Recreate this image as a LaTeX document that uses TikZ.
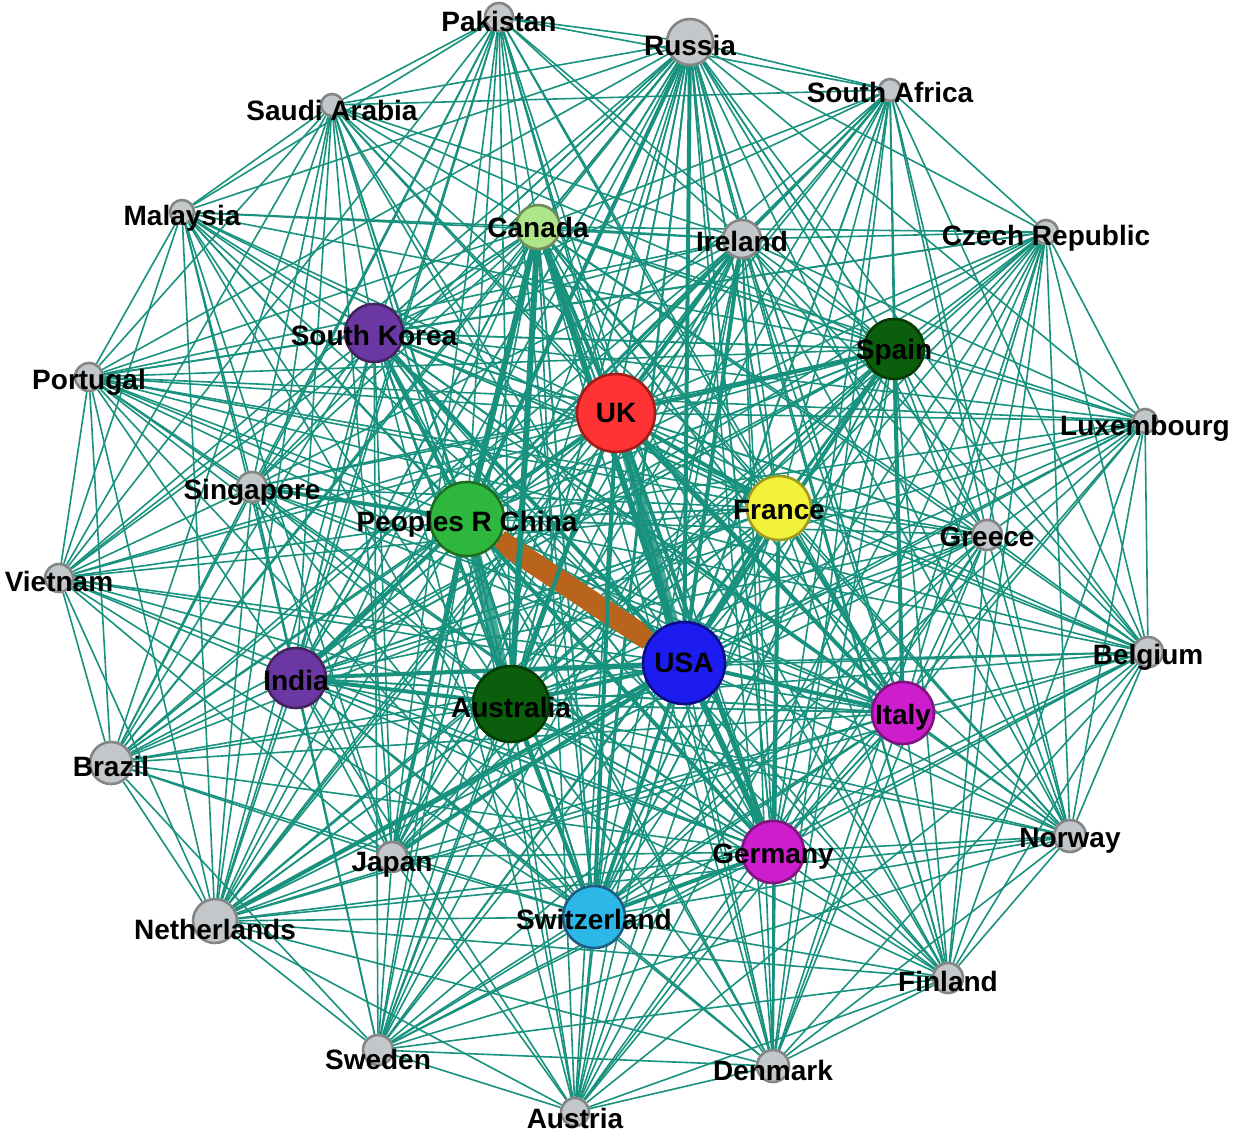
\documentclass[tikz,border=0pt]{standalone}
\usepackage{fontspec}
\setmainfont{Liberation Sans}
\pgfdeclarelayer{edges}
\pgfsetlayers{edges,main}
\definecolor{tealE}{RGB}{24,146,126}
\definecolor{orng}{RGB}{184,100,28}
\definecolor{grayF}{HTML}{C3C7C9}
\definecolor{grayB}{HTML}{858585}
\definecolor{ukF}{HTML}{FF3333}
\definecolor{ukB}{HTML}{A21C1C}
\definecolor{usaF}{HTML}{1C1CF0}
\definecolor{usaB}{HTML}{0D0D8C}
\definecolor{chnF}{HTML}{2DB83D}
\definecolor{chnB}{HTML}{1E6E22}
\definecolor{dgF}{HTML}{0B5E0B}
\definecolor{dgB}{HTML}{063A06}
\definecolor{fraF}{HTML}{F2F23A}
\definecolor{fraB}{HTML}{9C9C22}
\definecolor{canF}{HTML}{AEE58A}
\definecolor{canB}{HTML}{6E8C56}
\definecolor{purF}{HTML}{6B38A3}
\definecolor{purB}{HTML}{43245F}
\definecolor{magF}{HTML}{CC1ECC}
\definecolor{magB}{HTML}{80137F}
\definecolor{swiF}{HTML}{2CB8E6}
\definecolor{swiB}{HTML}{1F5C85}
\begin{document}
\begin{tikzpicture}[x=0.5pt,y=-0.5pt,
  vtx/.style={circle,inner sep=0pt,line width=1.3pt},
  lbl/.style={font=\fontsize{14}{16}\selectfont\bfseries,inner sep=0pt,text=black},
  edge/.style={draw=tealE,line width=0.8pt},
  emid/.style={draw=tealE,line width=2pt},
  ebig/.style={draw=tealE,line width=3pt},
  ehuge/.style={draw=tealE,line width=5.5pt,opacity=0.8},
  hot/.style={draw=orng,line width=11pt}]
\useasboundingbox (0,0) rectangle (1235,1133);
% vertices
\foreach \id/\x/\y/\d/\fc/\bc in {
  pak/499/17/28/grayF/grayB, rus/690/42/46/grayF/grayB, saf/890/90/22/grayF/grayB,
  sau/332/105/22/grayF/grayB, mal/182/212/24/grayF/grayB, can/538/227/44/canF/canB,
  ire/742/239/38/grayF/grayB, cze/1046/232/24/grayF/grayB, kor/374/333/58/purF/purB,
  spa/894/349/60/dgF/dgB, por/89/377/28/grayF/grayB, uk/616/413/78/ukF/ukB,
  lux/1145/421/24/grayF/grayB, sin/252/487/30/grayF/grayB, fra/779/508/64/fraF/fraB,
  chn/467/519/74/chnF/chnB, gre/987/535/30/grayF/grayB, vie/59/578/28/grayF/grayB,
  usa/684/663/82/usaF/usaB, bel/1148/652/30/grayF/grayB, ind/296/678/60/purF/purB,
  aus/511/704/76/dgF/dgB, ita/903/713/62/magF/magB, bra/111/763/42/grayF/grayB,
  nor/1070/836/32/grayF/grayB, ger/773/852/62/magF/magB, jap/392/857/30/grayF/grayB,
  swi/594/917/62/swiF/swiB, net/215/921/44/grayF/grayB, fin/948/978/30/grayF/grayB,
  swe/378/1050/30/grayF/grayB, den/773/1066/32/grayF/grayB, aut/575/1112/28/grayF/grayB}
  \node[vtx,fill=\fc,draw=\bc,minimum size=\d*0.5pt] (\id) at (\x,\y) {};
% labels
\foreach \id/\txt/\dy in {
  pak/Pakistan/5, rus/Russia/3, saf/South Africa/2, sau/Saudi Arabia/5, mal/Malaysia/6,
  can/Canada/0, ire/Ireland/2, cze/Czech Republic/6, kor/South Korea/2, spa/Spain/3,
  por/Portugal/5, uk/UK/0, lux/Luxembourg/7, sin/Singapore/5, fra/France/2,
  chn/Peoples R China/5, gre/Greece/2, vie/Vietnam/3, usa/USA/0, bel/Belgium/5,
  ind/India/2, aus/Australia/3, ita/Italy/4, bra/Brazil/3, nor/Norway/5,
  ger/Germany/5, jap/Japan/8, swi/Switzerland/2, net/Netherlands/8, fin/Finland/3,
  swe/Sweden/9, den/Denmark/4, aut/Austria/6}
  \node[lbl] (\id-l) at ([yshift=-\dy*0.5pt]\id.center) {\txt};
% connectors
\begin{pgfonlayer}{edges}
\foreach \a in {uk,usa,chn,aus,can,fra,spa,ita,ger,swi,ind,kor,rus}
  \foreach \b in {pak,rus,saf,sau,mal,can,ire,cze,kor,spa,por,uk,lux,sin,fra,chn,gre,vie,usa,bel,ind,aus,ita,bra,nor,ger,jap,swi,net,fin,swe,den,aut}
  {\ifx\a\b\else\draw[edge] (\a) -- (\b);\fi}
\foreach \a/\b in {
  pak/sau, pak/mal, pak/sin, pak/saf, pak/ire, pak/jap, pak/net, pak/bra, pak/vie,
  saf/ire, saf/net, saf/bra, saf/swe, saf/bel, saf/den, saf/nor, saf/gre, saf/cze, saf/sau,
  sau/mal, sau/sin, sau/jap, sau/ire, sau/por, sau/net, sau/vie, sau/bra,
  mal/sin, mal/por, mal/vie, mal/jap, mal/ire, mal/net,
  ire/cze, ire/net, ire/bel, ire/swe, ire/den, ire/gre, ire/nor, ire/fin, ire/por, ire/bra, ire/aut, ire/lux, ire/jap, ire/sin,
  cze/lux, cze/gre, cze/bel, cze/aut, cze/net, cze/por, cze/nor, cze/den, cze/fin,
  por/vie, por/bra, por/sin, por/net, por/gre, por/bel, por/lux,
  lux/bel, lux/gre, lux/net, lux/nor, lux/fin,
  sin/vie, sin/jap, sin/net, sin/bra, sin/swe,
  gre/bel, gre/nor, gre/net, gre/fin, gre/swe, gre/den, gre/aut,
  vie/bra, vie/jap, vie/net,
  bel/nor, bel/net, bel/fin, bel/den, bel/swe, bel/aut,
  bra/net, bra/jap, bra/swe,
  nor/fin, nor/den, nor/swe, nor/net,
  jap/net, jap/swe, jap/aut,
  net/swe, net/den, net/aut, net/fin,
  fin/den, fin/swe, fin/aut,
  swe/den, swe/aut, den/aut}
  \draw[edge] (\a) -- (\b);
\draw[hot] (chn) -- (usa);
\foreach \a/\b in {
  uk/chn, uk/aus, usa/aus, usa/fra, usa/ita, usa/swi, usa/spa, uk/can, chn/kor, chn/sin,
  usa/ind, usa/kor, uk/ger, uk/fra, uk/spa, uk/ita, chn/ind, aus/ind, rus/usa, ire/usa,
  uk/ire, chn/jap, ger/swi, ger/fra, fra/ita, spa/ita, uk/swi, aus/swi, chn/ger, rus/chn,
  usa/net, usa/jap}
  \draw[emid] (\a) -- (\b);
\foreach \a/\b in {can/usa, can/chn, ger/usa, can/aus}
  \draw[ebig] (\a) -- (\b);
\foreach \a/\b in {uk/usa, chn/aus}
  \draw[ehuge] (\a) -- (\b);
\end{pgfonlayer}
\end{tikzpicture}
\end{document}
